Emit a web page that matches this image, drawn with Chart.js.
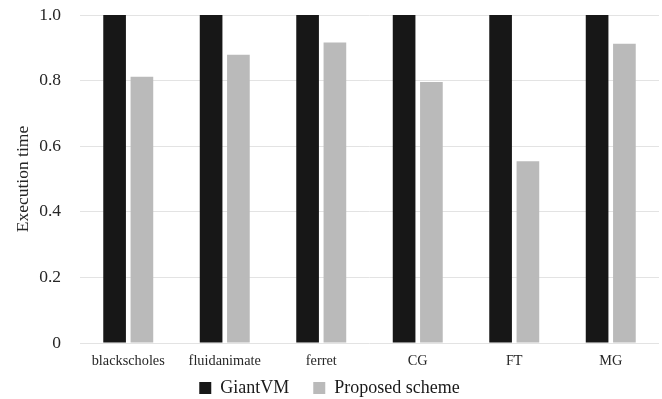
<!DOCTYPE html>
<html>
<head>
<meta charset="utf-8">
<script src="https://cdn.jsdelivr.net/npm/chart.js@4"></script>
<style>
  html, body { margin: 0; padding: 0; background: #ffffff; }
  #wrap { width: 662px; height: 399px; position: relative; }
</style>
</head>
<body>
<div id="wrap"><canvas id="c" width="662" height="399"></canvas></div>
<script>
const categories = ["blackscholes", "fluidanimate", "ferret", "CG", "FT", "MG"];
const giantVM = [1.0, 1.0, 1.0, 1.0, 1.0, 1.0];
const proposed = [0.812, 0.879, 0.916, 0.796, 0.554, 0.912];
const yTickValues = [0, 0.2, 0.4, 0.6, 0.8, 1.0];
const yTickLabels = ["0", "0.2", "0.4", "0.6", "0.8", "1.0"];
const seriesNames = ["GiantVM", "Proposed scheme"];
const yTitle = "Execution time";

const serif = "'Liberation Serif', 'Times New Roman', serif";

// Let the x-axis label strip extend below its (small) layout box so labels are not clipped.
const xLabelRoom = {
  id: 'xLabelRoom',
  afterLayout(chart) {
    const x = chart.scales.x;
    x.bottom = x.top + 32;
  }
};

new Chart(document.getElementById('c'), {
  type: 'bar',
  data: {
    labels: categories,
    datasets: [
      { label: seriesNames[0], data: giantVM, backgroundColor: '#171717', borderWidth: 0,
        categoryPercentage: 0.566, barPercentage: 0.83 },
      { label: seriesNames[1], data: proposed, backgroundColor: '#bababa', borderWidth: 0,
        categoryPercentage: 0.566, barPercentage: 0.83 }
    ]
  },
  plugins: [xLabelRoom],
  options: {
    responsive: false,
    animation: false,
    devicePixelRatio: 1,
    layout: { padding: { top: 15, right: 3, left: 0, bottom: -8 } },
    plugins: {
      legend: {
        position: 'bottom',
        labels: {
          boxWidth: 12, boxHeight: 12, padding: 24,
          color: '#1a1a1a',
          font: { family: serif, size: 18 }
        }
      },
      tooltip: { enabled: false }
    },
    scales: {
      x: {
        grid: { display: false },
        border: { display: false },
        ticks: { color: '#262626', font: { family: serif, size: 14.3 }, padding: 2, maxRotation: 0 },
        afterFit: (s) => { s.height = 12; }
      },
      y: {
        min: 0, max: 1,
        afterBuildTicks: (s) => { s.ticks = yTickValues.map(v => ({ value: v })); },
        ticks: {
          color: '#262626',
          font: { family: serif, size: 17.5 },
          padding: 19,
          callback: (v) => { const i = yTickValues.findIndex(t => Math.abs(t - v) < 1e-9); return i >= 0 ? yTickLabels[i] : ''; }
        },
        grid: { color: '#e3e3e3', lineWidth: 1, drawTicks: false },
        border: { display: false },
        title: { display: true, text: yTitle, color: '#262626', font: { family: serif, size: 17.5 }, padding: { top: 13, bottom: 0 } },
        afterFit: (s) => { s.width = 80; s.paddingTop = 0; s.paddingBottom = 0; }
      }
    }
  }
});
</script>
</body>
</html>
